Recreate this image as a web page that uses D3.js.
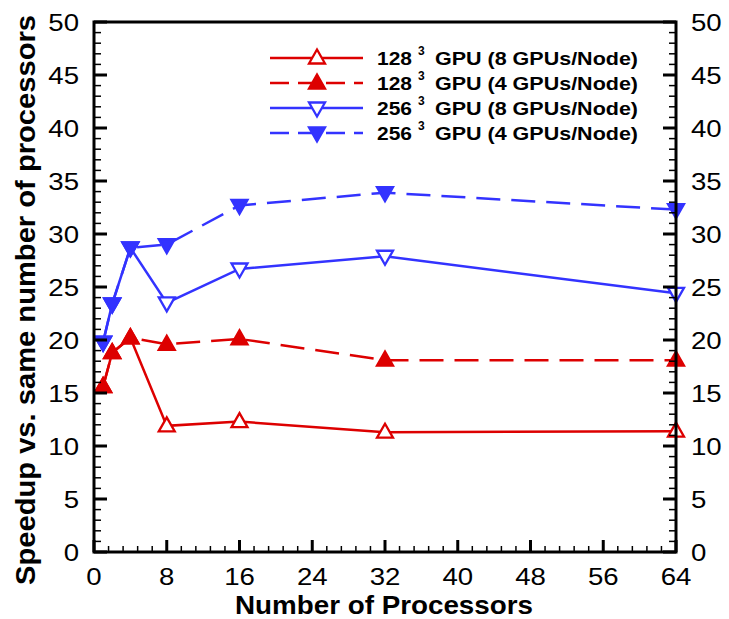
<!DOCTYPE html>
<html lang="en">
<head>
<meta charset="utf-8">
<title>Speedup chart</title>
<script src="https://cdn.jsdelivr.net/npm/d3@7"></script>
<style>
  body { margin: 0; background: #fff; }
  text { font-family: "Liberation Sans", Arial, sans-serif; }
</style>
</head>
<body>
<script>
// processors on the x axis
var procs = [1, 2, 4, 8, 16, 32, 64];

// speedup values
var red8  = [15.6, 18.8, 20.2, 11.9, 12.3, 11.3, 11.4];
var red4  = [15.6, 18.8, 20.2, 19.6, 20.1, 18.1, 18.1];
var blue8 = [19.8, 23.4, 28.7, 23.5, 26.7, 27.9, 24.4];
var blue4 = [19.8, 23.4, 28.7, 29.0, 32.7, 33.9, 32.3];

var seriesNames = ["128", "128", "256", "256"];
var seriesNote = ["GPU (8 GPUs/Node)", "GPU (4 GPUs/Node)", "GPU (8 GPUs/Node)", "GPU (4 GPUs/Node)"];

var xTicks = [0, 8, 16, 24, 32, 40, 48, 56, 64];
var yTicks = [0, 5, 10, 15, 20, 25, 30, 35, 40, 45, 50];

var W = 729, H = 619;
var pLeft = 94, pRight = 676, pTop = 22, pBottom = 552;

var x = d3.scaleLinear().domain([0, 64]).range([pLeft, pRight]);
var y = d3.scaleLinear().domain([0, 50]).range([pBottom, pTop]);

var svg = d3.select("body").append("svg")
    .attr("width", W).attr("height", H);

var series = [
  {vals: red8,  color: "#dd0000", dash: null,    filled: false, down: false},
  {vals: red4,  color: "#dd0000", dash: "24,11", filled: true,  down: false},
  {vals: blue8, color: "#3333ff", dash: null,    filled: false, down: true},
  {vals: blue4, color: "#3333ff", dash: "24,11", filled: true,  down: true}
];

function tri(g, cx, cy, down, color, filled) {
  var h = 10, w = 8;
  var pts = down
    ? [[cx - w, cy - h * 0.55], [cx + w, cy - h * 0.55], [cx, cy + h * 0.85]]
    : [[cx - w, cy + h * 0.55], [cx + w, cy + h * 0.55], [cx, cy - h * 0.85]];
  g.append("path")
    .attr("d", "M" + pts.join("L") + "Z")
    .attr("fill", filled ? color : "#fff")
    .attr("stroke", color)
    .attr("stroke-width", 2.3);
}

var line = d3.line()
  .x(function(d, i) { return x(procs[i]); })
  .y(function(d) { return y(d); });

// lines then markers
series.forEach(function(s) {
  svg.append("path")
    .attr("d", line(s.vals))
    .attr("fill", "none")
    .attr("stroke", s.color)
    .attr("stroke-width", 2.5)
    .attr("stroke-dasharray", s.dash);
});
series.forEach(function(s) {
  var g = svg.append("g");
  s.vals.forEach(function(v, i) {
    tri(g, x(procs[i]), y(v), s.down, s.color, s.filled);
  });
});

// frame
svg.append("rect")
  .attr("x", pLeft).attr("y", pTop)
  .attr("width", pRight - pLeft).attr("height", pBottom - pTop)
  .attr("fill", "none").attr("stroke", "#000").attr("stroke-width", 3);

// ticks (inward)
var ax = svg.append("g").attr("stroke", "#000");
d3.range(0, 64.01, 1.6).forEach(function(t) {
  var major = Math.abs(t / 8 - Math.round(t / 8)) < 1e-6;
  ax.append("line")
    .attr("x1", x(t)).attr("x2", x(t))
    .attr("y1", pBottom).attr("y2", pBottom - (major ? 12 : 6))
    .attr("stroke-width", major ? 3 : 1.5);
});
d3.range(0, 51, 1).forEach(function(t) {
  var major = t % 5 === 0;
  var len = major ? 13 : 7;
  ax.append("line")
    .attr("x1", pLeft).attr("x2", pLeft + len)
    .attr("y1", y(t)).attr("y2", y(t))
    .attr("stroke-width", major ? 3 : 1.5);
  ax.append("line")
    .attr("x1", pRight).attr("x2", pRight - len)
    .attr("y1", y(t)).attr("y2", y(t))
    .attr("stroke-width", major ? 3 : 1.5);
});

// tick labels (slightly widened like the original)
function label(px, py, anchor, txt) {
  svg.append("text")
    .attr("transform", "translate(" + px + "," + py + ") scale(1.15,1)")
    .attr("text-anchor", anchor)
    .attr("font-size", 24)
    .text(txt);
}
xTicks.forEach(function(d) { label(x(d), 585, "middle", d); });
yTicks.forEach(function(d) { label(79, y(d) + 8.5, "end", d); });
yTicks.forEach(function(d) { label(691, y(d) + 8.5, "start", d); });

// axis titles
svg.append("text")
  .attr("x", 384).attr("y", 614)
  .attr("text-anchor", "middle")
  .attr("font-size", 25).attr("font-weight", "bold")
  .attr("textLength", 298).attr("lengthAdjust", "spacingAndGlyphs")
  .text("Number of Processors");

svg.append("text")
  .attr("transform", "translate(35,300) rotate(-90)")
  .attr("text-anchor", "middle")
  .attr("font-size", 28).attr("font-weight", "bold")
  .attr("textLength", 570).attr("lengthAdjust", "spacingAndGlyphs")
  .text("Speedup vs. same number of processors");

// legend
var legY = [58, 83, 108, 133];
series.forEach(function(s, i) {
  var g = svg.append("g");
  g.append("line")
    .attr("x1", 270).attr("x2", 363)
    .attr("y1", legY[i]).attr("y2", legY[i])
    .attr("stroke", s.color).attr("stroke-width", 2.5)
    .attr("stroke-dasharray", s.dash ? "19,9" : null);
  tri(g, 317, legY[i], s.down, s.color, s.filled);
  g.append("text")
    .attr("x", 377).attr("y", legY[i] + 6.5)
    .attr("font-size", 18).attr("font-weight", "bold")
    .attr("textLength", 35).attr("lengthAdjust", "spacingAndGlyphs")
    .text(seriesNames[i]);
  g.append("text")
    .attr("x", 418).attr("y", legY[i] - 3)
    .attr("font-size", 12).attr("font-weight", "bold")
    .text("3");
  g.append("text")
    .attr("x", 435).attr("y", legY[i] + 6.5)
    .attr("font-size", 18).attr("font-weight", "bold")
    .attr("textLength", 203).attr("lengthAdjust", "spacingAndGlyphs")
    .text(seriesNote[i]);
});
</script>
</body>
</html>
